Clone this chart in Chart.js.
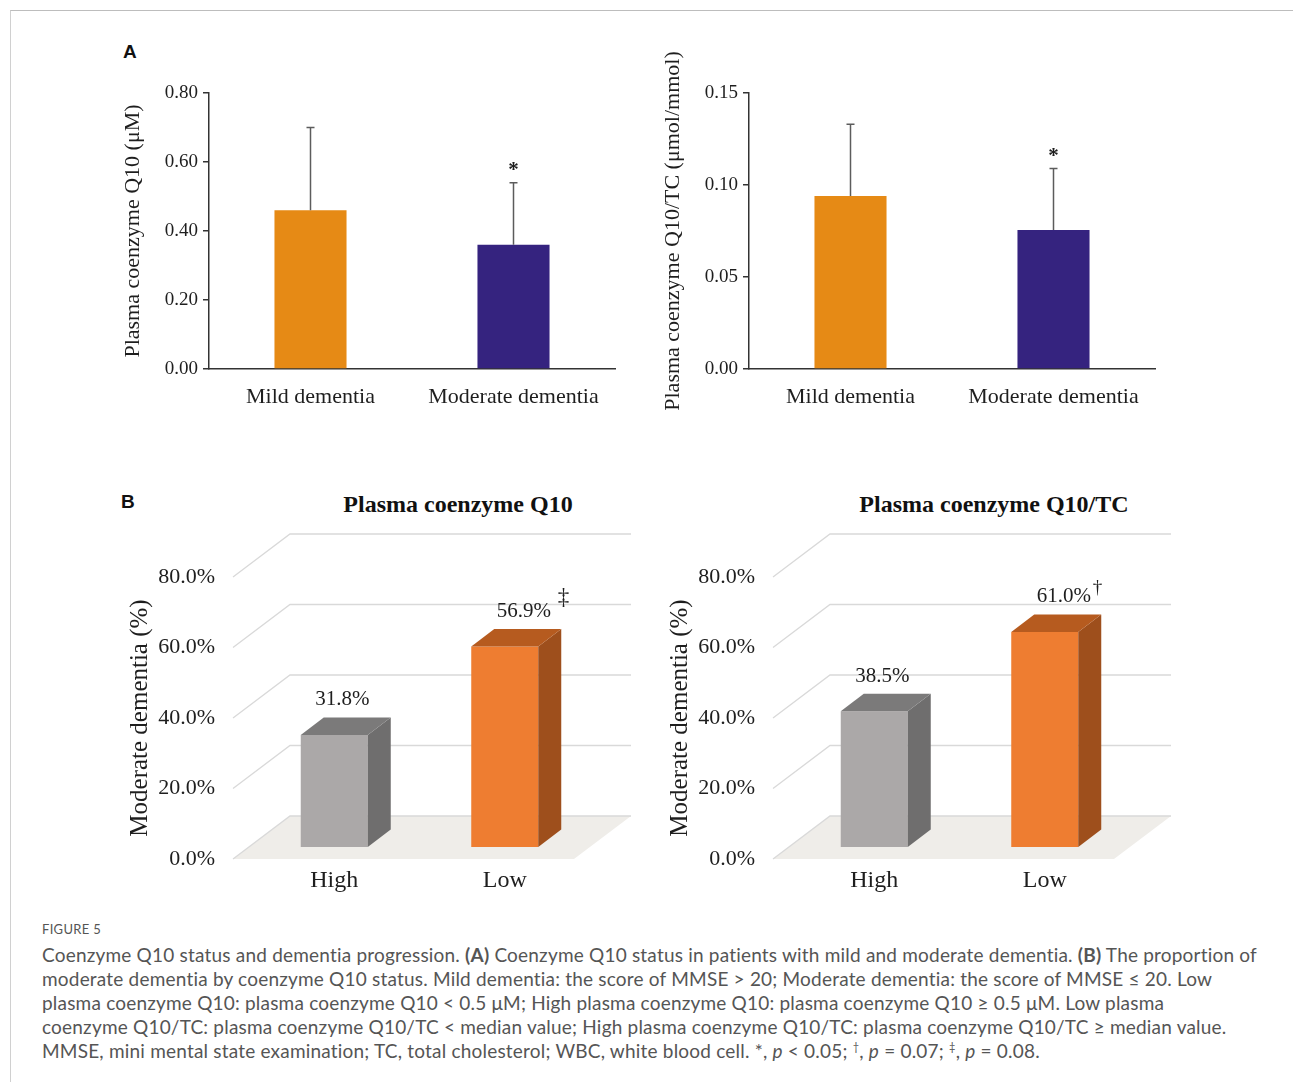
<!DOCTYPE html>
<html>
<head>
<meta charset="utf-8">
<script src="https://cdn.jsdelivr.net/npm/chart.js@4.4.0/dist/chart.umd.min.js"></script>
<style>
body { margin:0; background:#fff; width:1293px; height:1082px; position:relative; overflow:hidden; font-family:Lato, "Open Sans", sans-serif; }
.frame { position:absolute; left:10px; top:10px; width:1400px; height:1200px; border-top:1px solid #bdbdbd; border-left:1px solid #d0d0d0; }
canvas { position:absolute; }
.panel { position:absolute; font-family:"Liberation Sans", Arial, sans-serif; font-weight:bold; font-size:19px; color:#111; line-height:20px; }
.ctitle { position:absolute; width:400px; text-align:center; font-family:"Liberation Serif", serif; font-weight:bold; font-size:24px; line-height:28px; color:#111; }
.fig { position:absolute; left:42px; top:921px; font-size:13px; line-height:16px; color:#555; letter-spacing:0.3px; }
.cap { position:absolute; left:42px; top:943px; font-size:19px; line-height:24px; color:#555; letter-spacing:0.2px; }
.cap div { white-space:nowrap; }
.cap sup { font-size:11px; line-height:0; }
</style>
</head>
<body>
<div class="frame"></div>
<div class="panel" style="left:123px; top:42px;">A</div>
<div class="panel" style="left:121px; top:492px;">B</div>
<div class="ctitle" style="left:258px; top:490px;">Plasma coenzyme Q10</div>
<div class="ctitle" style="left:794px; top:490px;">Plasma coenzyme Q10/TC</div>

<canvas id="a1" width="530" height="385" style="left:100px; top:30px;"></canvas>
<canvas id="a2" width="530" height="385" style="left:640px; top:30px;"></canvas>
<canvas id="b1" width="560" height="420" style="left:100px; top:485px;"></canvas>
<canvas id="b2" width="560" height="420" style="left:640px; top:485px;"></canvas>

<div class="fig">FIGURE 5</div>
<div class="cap">
<div>Coenzyme Q10 status and dementia progression. <b>(A)</b> Coenzyme Q10 status in patients with mild and moderate dementia. <b>(B)</b> The proportion of</div>
<div>moderate dementia by coenzyme Q10 status. Mild dementia: the score of MMSE &gt; 20; Moderate dementia: the score of MMSE &le; 20. Low</div>
<div>plasma coenzyme Q10: plasma coenzyme Q10 &lt; 0.5 &mu;M; High plasma coenzyme Q10: plasma coenzyme Q10 &ge; 0.5 &mu;M. Low plasma</div>
<div>coenzyme Q10/TC: plasma coenzyme Q10/TC &lt; median value; High plasma coenzyme Q10/TC: plasma coenzyme Q10/TC &ge; median value.</div>
<div>MMSE, mini mental state examination; TC, total cholesterol; WBC, white blood cell. *, <i>p</i> &lt; 0.05; <sup>&dagger;</sup>, <i>p</i> = 0.07; <sup>&Dagger;</sup>, <i>p</i> = 0.08.</div>
</div>

<script>
// Panel A: mean + SD
const groupsA = ['Mild dementia', 'Moderate dementia'];
const q10Mean = [0.46, 0.36];
const q10Sd = [0.24, 0.18];
const q10Sig = ['', '*'];
const q10TcMean = [0.094, 0.0755];
const q10TcSd = [0.039, 0.0335];
const q10TcSig = ['', '*'];

// Panel B: proportion of moderate dementia (%)
const groupsB = ['High', 'Low'];
const q10Pct = [31.8, 56.9];
const q10Mark = ['', '\u2021'];
const q10TcPct = [38.5, 61.0];
const q10TcMark = ['', '\u2020'];

const SERIF = '"Liberation Serif", "Times New Roman", serif';
const INK = '#1e1e1e';

// error bars + significance marks for panel A
const errorBars = {
    id: 'errorBars',
    afterDatasetsDraw(chart, args, opts) {
        const ctx = chart.ctx;
        const y = chart.scales.y;
        const ds = chart.data.datasets[0];
        ctx.save();
        chart.getDatasetMeta(0).data.forEach((bar, i) => {
            const top = y.getPixelForValue(ds.data[i] + opts.sd[i]);
            ctx.strokeStyle = '#5c5c5c';
            ctx.lineWidth = 1.5;
            ctx.beginPath();
            ctx.moveTo(bar.x, bar.y);
            ctx.lineTo(bar.x, top);
            ctx.moveTo(bar.x - 4, top);
            ctx.lineTo(bar.x + 4, top);
            ctx.stroke();
            if (opts.sig[i]) {
                ctx.fillStyle = INK;
                ctx.font = 'bold 21px ' + SERIF;
                ctx.textAlign = 'center';
                ctx.textBaseline = 'middle';
                ctx.fillText(opts.sig[i], bar.x, top - 12);
            }
        });
        ctx.restore();
    }
};

// pseudo 3D look for panel B
const DX = 57, DY = 43;   // back wall offset from the label plane
const FX = 16, FY = 12;   // front face of the bars
const SX = 23, SY = 17.5; // bar depth
const box3d = {
    id: 'box3d',
    beforeDatasetsDraw(chart) {
        const {ctx, chartArea: a, scales: {y}} = chart;
        const y0 = y.getPixelForValue(0);
        ctx.save();
        ctx.fillStyle = '#efede9';
        ctx.beginPath();
        ctx.moveTo(a.left, y0);
        ctx.lineTo(a.left + DX, y0 - DY);
        ctx.lineTo(a.right + DX, y0 - DY);
        ctx.lineTo(a.right, y0);
        ctx.closePath();
        ctx.fill();
        ctx.strokeStyle = '#d9d9d9';
        ctx.lineWidth = 1.3;
        y.ticks.forEach(t => {
            const py = y.getPixelForValue(t.value);
            ctx.beginPath();
            ctx.moveTo(a.left, py);
            ctx.lineTo(a.left + DX, py - DY);
            ctx.lineTo(a.right + DX, py - DY);
            ctx.stroke();
        });
        ctx.restore();
        ctx.save();
        ctx.translate(FX, -FY);
    },
    afterDatasetsDraw(chart, args, opts) {
        const ctx = chart.ctx;
        const ds = chart.data.datasets[0];
        chart.getDatasetMeta(0).data.forEach((bar, i) => {
            const h = bar.width / 2;
            const l = bar.x - h, r = bar.x + h;
            ctx.fillStyle = opts.side[i];
            ctx.beginPath();
            ctx.moveTo(r, bar.y);
            ctx.lineTo(r + SX, bar.y - SY);
            ctx.lineTo(r + SX, bar.base - SY);
            ctx.lineTo(r, bar.base);
            ctx.closePath();
            ctx.fill();
            ctx.fillStyle = opts.top[i];
            ctx.beginPath();
            ctx.moveTo(l, bar.y);
            ctx.lineTo(l + SX, bar.y - SY);
            ctx.lineTo(r + SX, bar.y - SY);
            ctx.lineTo(r, bar.y);
            ctx.closePath();
            ctx.fill();

            // value label, with the p marker after it
            const mark = opts.marks[i];
            const text = ds.data[i].toFixed(1) + '%';
            const cx = bar.x + 8 + (mark ? 11 : 0);
            const cy = bar.y - 35;
            ctx.fillStyle = INK;
            ctx.font = '21px ' + SERIF;
            ctx.textAlign = 'center';
            ctx.textBaseline = 'middle';
            ctx.fillText(text, cx, cy);
            if (mark) {
                const w = ctx.measureText(text).width;
                ctx.textAlign = 'left';
                ctx.font = (mark === '\u2021' ? '23px ' : '19px ') + SERIF;
                ctx.fillText(mark, cx + w / 2 + (mark === '\u2021' ? 7 : 2), cy - (mark === '\u2021' ? 13 : 9));
            }
        });
        ctx.restore();
    }
};

function makeA(id, means, sd, sig, max, step, title) {
    new Chart(document.getElementById(id), {
        type: 'bar',
        data: {
            labels: groupsA,
            datasets: [{
                data: means,
                backgroundColor: ['#e68a15', '#35237f'],
                barPercentage: 0.355,
                categoryPercentage: 1
            }]
        },
        options: {
            responsive: false,
            animation: false,
            devicePixelRatio: 1,
            layout: { padding: { top: 63, right: 15, left: 0, bottom: 0 } },
            plugins: {
                legend: { display: false },
                tooltip: { enabled: false },
                errorBars: { sd: sd, sig: sig }
            },
            scales: {
                x: {
                    afterFit: s => { s.height = 46; },
                    grid: { display: false, drawTicks: false },
                    border: { display: true, color: '#333', width: 1.5 },
                    ticks: { color: INK, padding: 15, font: { family: SERIF, size: 22 } }
                },
                y: {
                    min: 0,
                    max: max,
                    afterFit: s => { s.width = 109; },
                    grid: { display: true, drawOnChartArea: false, drawTicks: true, tickLength: 6, color: '#333', lineWidth: 1.5 },
                    border: { display: true, color: '#333', width: 1.5 },
                    ticks: {
                        stepSize: step,
                        padding: 5,
                        color: INK,
                        font: { family: SERIF, size: 19 },
                        callback: v => v.toFixed(2)
                    },
                    title: {
                        display: true,
                        text: title,
                        color: INK,
                        font: { family: SERIF, size: 22 },
                        padding: { top: 20, bottom: 0 }
                    }
                }
            }
        },
        plugins: [errorBars]
    });
}

function makeB(id, pct, marks) {
    new Chart(document.getElementById(id), {
        type: 'bar',
        data: {
            labels: groupsB,
            datasets: [{
                data: pct,
                backgroundColor: ['#aba8a8', '#ee7d31'],
                barPercentage: 0.393,
                categoryPercentage: 1
            }]
        },
        options: {
            responsive: false,
            animation: false,
            devicePixelRatio: 1,
            layout: { padding: { top: 92, right: 86, left: 0, bottom: 0 } },
            plugins: {
                legend: { display: false },
                tooltip: { enabled: false },
                box3d: {
                    side: ['#6f6e6e', '#9e4f1c'],
                    top: ['#7b7a7a', '#b65b1f'],
                    marks: marks
                }
            },
            scales: {
                x: {
                    afterFit: s => { s.height = 46; },
                    grid: { display: false, drawTicks: false },
                    border: { display: false },
                    ticks: { color: INK, padding: 7, labelOffset: FX, font: { family: SERIF, size: 24 } }
                },
                y: {
                    min: 0,
                    max: 80,
                    afterFit: s => { s.width = 133; },
                    grid: { display: false, drawTicks: false },
                    border: { display: false },
                    ticks: {
                        stepSize: 20,
                        padding: 18,
                        color: INK,
                        font: { family: SERIF, size: 22 },
                        callback: v => v.toFixed(1) + '%'
                    },
                    title: {
                        display: true,
                        text: 'Moderate dementia (%)',
                        color: INK,
                        font: { family: SERIF, size: 25 },
                        padding: { top: 25, bottom: 0 }
                    }
                }
            }
        },
        plugins: [box3d]
    });
}

makeA('a1', q10Mean, q10Sd, q10Sig, 0.8, 0.2, 'Plasma coenzyme Q10 (\u03bcM)');
makeA('a2', q10TcMean, q10TcSd, q10TcSig, 0.15, 0.05, 'Plasma coenzyme Q10/TC (\u03bcmol/mmol)');
makeB('b1', q10Pct, q10Mark);
makeB('b2', q10TcPct, q10TcMark);
</script>
</body>
</html>
